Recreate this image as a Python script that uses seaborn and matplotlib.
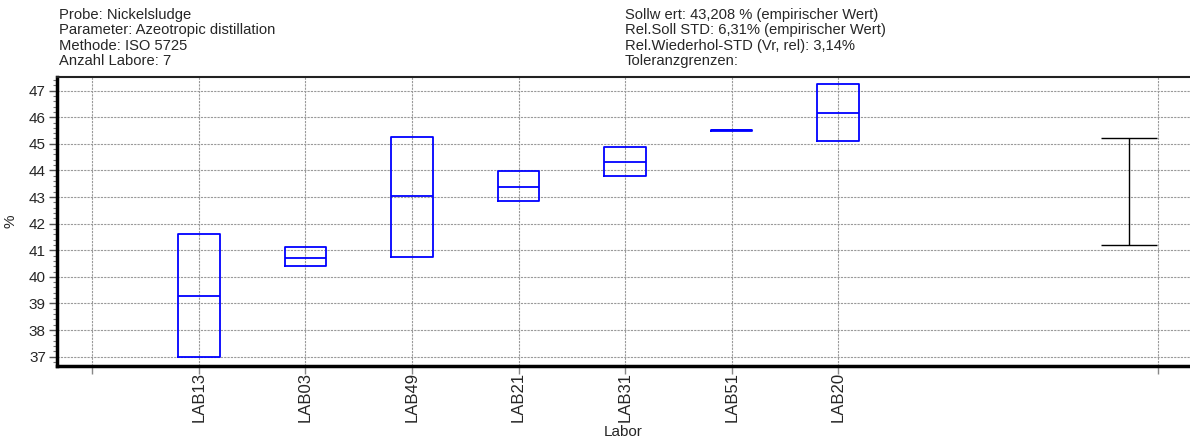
import numpy as np
import pandas as pd
import seaborn as sns
import matplotlib.pyplot as plt
from matplotlib.ticker import MultipleLocator

# --- data ---
labs = ["LAB13", "LAB03", "LAB49", "LAB21", "LAB31", "LAB51", "LAB20"]
q1 = [36.98, 40.40, 40.76, 42.85, 43.79, 45.47, 45.12]
median = [39.27, 40.70, 43.02, 43.38, 44.32, 45.50, 46.17]
q3 = [41.62, 41.13, 45.26, 43.98, 44.88, 45.53, 47.24]

sollwert = 43.208
tol_low = 41.20
tol_high = 45.21

header_left = ["Probe: Nickelsludge",
               "Parameter: Azeotropic distillation",
               "Methode: ISO 5725",
               "Anzahl Labore: 7"]
header_right = ["Sollw ert: 43,208 % (empirischer Wert)",
                "Rel.Soll STD: 6,31% (empirischer Wert)",
                "Rel.Wiederhol-STD (Vr, rel): 3,14%",
                "Toleranzgrenzen:"]

# build long table so the box stats come out as q1/median/q3
rows = []
for i, lab in enumerate(labs):
    for v in [q1[i], q1[i], median[i], q3[i], q3[i]]:
        rows.append({"pos": i + 1, "Labor": lab, "value": v})
df = pd.DataFrame(rows)

sns.set_style("white")
plt.rcParams["font.family"] = ["Liberation Sans", "DejaVu Sans"]

fig = plt.figure(figsize=(11.9, 4.45), dpi=100)
ax = fig.add_axes([57 / 1190, 79 / 445, 1133 / 1190, 289 / 445])

sns.boxplot(data=df, x="pos", y="value", native_scale=True, width=0.39,
            fill=False, color="#0000ff", linewidth=1.3, showcaps=False,
            whis=0, fliersize=0, ax=ax)

# tolerance bar on the right
tol_x = 9.73
ax.errorbar([tol_x], [sollwert], yerr=[[sollwert - tol_low], [tol_high - sollwert]],
            fmt="none", ecolor="black", elinewidth=1.0, capsize=20, capthick=1.0)

ax.set_xlim(-0.33, 10.3)
ax.set_ylim(36.65, 47.51)

tick_pos = [0, 1, 2, 3, 4, 5, 6, 7, 10]
ax.set_xticks(tick_pos)
ax.set_xticklabels([""] + labs + [""], rotation=90, fontsize=12)
ax.yaxis.set_major_locator(MultipleLocator(1))
ax.yaxis.set_minor_locator(MultipleLocator(0.2))
ax.tick_params(axis="y", which="major", length=6, width=1, color="#555555",
               labelsize=11, left=True, pad=2)
ax.tick_params(axis="y", which="minor", length=3, width=0.8, color="#777777", left=True)
ax.tick_params(axis="x", which="major", length=6, width=1, color="#888888",
               bottom=True, pad=-2)

ax.grid(True, which="major", color="#999999", linestyle=(0, (2, 1)), linewidth=0.8)
ax.set_axisbelow(True)

for s in ["left", "bottom"]:
    ax.spines[s].set_linewidth(2.5)
    ax.spines[s].set_color("black")
ax.spines["top"].set_linewidth(1.5)
ax.spines["top"].set_color("#222222")
ax.spines["right"].set_visible(False)

ax.set_xlabel("Labor", fontsize=11)
ax.xaxis.set_label_coords(0.5, -0.205)
ax.set_ylabel("%", fontsize=11, labelpad=8)

fig.text(59 / 1190, 1 - 8 / 445, "\n".join(header_left), fontsize=10.6,
         va="top", ha="left", linespacing=1.12)
fig.text(625 / 1190, 1 - 8 / 445, "\n".join(header_right), fontsize=10.6,
         va="top", ha="left", linespacing=1.12)

fig.savefig("out.png", dpi=100)
